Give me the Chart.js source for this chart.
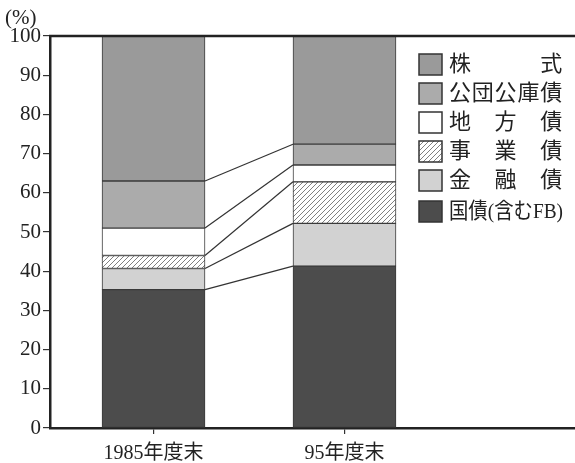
<!DOCTYPE html>
<html>
<head>
<meta charset="utf-8">
<script src="https://cdn.jsdelivr.net/npm/chart.js@4.4.1/dist/chart.umd.min.js"></script>
<style>
  html, body { margin: 0; padding: 0; background: #fff; }
  #wrap { width: 575px; height: 463px; }
</style>
</head>
<body>
<div id="wrap"><canvas id="c"></canvas></div>
<script>
// ================= DATA =================
const years = ["1985年度末", "95年度末"];
const seriesNames = ["国債(含むFB)", "金融債", "事業債", "地方債", "公団公庫債", "株式"];
const kokusai = [35.3, 41.3];
const kinyusai = [5.4, 10.9];
const jigyosai = [3.3, 10.6];
const chihosai = [7.0, 4.3];
const kodansai = [12.0, 5.3];
const kabushiki = [37.0, 27.6];
const yTicks = [0, 10, 20, 30, 40, 50, 60, 70, 80, 90, 100];

const FONT = '"Liberation Serif", "Noto Sans CJK JP", serif';

// hatch pattern for 事業債
function hatch() {
    const p = document.createElement("canvas");
    p.width = 5; p.height = 5;
    const g = p.getContext("2d");
    g.fillStyle = "#fff";
    g.fillRect(0, 0, 5, 5);
    g.strokeStyle = "#808080";
    g.lineWidth = 1;
    g.beginPath();
    g.moveTo(0, 5); g.lineTo(5, 0);
    g.moveTo(-2.5, 2.5); g.lineTo(2.5, -2.5);
    g.moveTo(2.5, 7.5); g.lineTo(7.5, 2.5);
    g.stroke();
    return g.createPattern(p, "repeat");
}

const fills = ["#4c4c4c", "#d2d2d2", hatch(), "#ffffff", "#ababab", "#9a9a9a"];
const values = [kokusai, kinyusai, jigyosai, chihosai, kodansai, kabushiki];

const datasets = seriesNames.map((name, i) => ({
    label: name,
    data: values[i].map((v, j) => ({ x: j, y: v })),
    backgroundColor: fills[i],
    borderColor: "#3a3a3a",
    borderWidth: 1,
    borderSkipped: false,
    barThickness: 103
}));

// ================= PLUGINS =================
const extras = {
    id: "extras",
    afterDatasetsDraw(chart) {
        const ctx = chart.ctx;
        const xs = chart.scales.x, ys = chart.scales.y;
        const half = chart.getDatasetMeta(0).data[0].width / 2;
        const xa = xs.getPixelForValue(0) + half;
        const xb = xs.getPixelForValue(1) - half;
        ctx.save();
        ctx.strokeStyle = "#333";
        ctx.lineWidth = 1.2;
        let c0 = 0, c1 = 0;
        for (let i = 0; i < values.length - 1; i++) {
            c0 += values[i][0];
            c1 += values[i][1];
            ctx.beginPath();
            ctx.moveTo(xa, ys.getPixelForValue(c0));
            ctx.lineTo(xb, ys.getPixelForValue(c1));
            ctx.stroke();
        }
        // top frame line
        const a = chart.chartArea;
        ctx.strokeStyle = "#222";
        ctx.lineWidth = 2.5;
        ctx.beginPath();
        ctx.moveTo(a.left - 1, a.top);
        ctx.lineTo(chart.width, a.top);
        ctx.stroke();

        // unit label
        ctx.fillStyle = "#222";
        ctx.font = "21px " + FONT;
        ctx.textBaseline = "middle";
        ctx.fillText("(%)", 5, 18);

        // legend (top = 株式)
        ctx.font = "22px " + FONT;
        const tx = 449, tw = 114;
        for (let k = 0; k < seriesNames.length; k++) {
            const i = seriesNames.length - 1 - k;
            const cy = 64 + k * 29 + (i === 0 ? 2 : 0);
            ctx.fillStyle = fills[i];
            ctx.fillRect(419, cy - 10, 23, 21);
            ctx.strokeStyle = "#333";
            ctx.lineWidth = 1.5;
            ctx.strokeRect(419, cy - 10, 23, 21);
            ctx.fillStyle = "#222";
            const t = seriesNames[i];
            ctx.textAlign = "left";
            if (i === 0) {
                ctx.fillText(t, tx, cy + 1, tw);
            } else {
                const chars = Array.from(t);
                const cw = 22.8;
                const gap = (tw - cw * chars.length) / (chars.length - 1);
                chars.forEach((ch, n) => ctx.fillText(ch, tx + n * (cw + gap), cy + 1));
            }
        }
        ctx.restore();
    }
};

// ================= CHART =================
new Chart(document.getElementById("c"), {
    type: "bar",
    data: { datasets: datasets },
    options: {
        responsive: true,
        maintainAspectRatio: false,
        animation: false,
        layout: { padding: { top: 36, right: 0, left: 0, bottom: 0 } },
        plugins: {
            legend: { display: false },
            tooltip: { enabled: false }
        },
        scales: {
            x: {
                type: "linear",
                stacked: true,
                offset: false,
                min: -0.542,
                max: 2.207,
                afterBuildTicks: s => { s.ticks = years.map((y, i) => ({ value: i })); },
                afterFit: s => { s.height = 35; },
                ticks: {
                    callback: v => years[v],
                    color: "#222",
                    font: { family: FONT, size: 20 },
                    padding: 8,
                    maxRotation: 0
                },
                grid: { offset: false, drawOnChartArea: false, drawTicks: true, tickLength: 6, color: "#333", lineWidth: 1.2 },
                border: { display: true, color: "#222", width: 2.5 }
            },
            y: {
                stacked: true,
                min: 0,
                max: 100,
                afterBuildTicks: s => { s.ticks = yTicks.map(v => ({ value: v })); },
                afterFit: s => { s.width = 50; },
                ticks: {
                    color: "#222",
                    font: { family: FONT, size: 21 },
                    padding: 2
                },
                grid: { drawOnChartArea: false, drawTicks: true, tickLength: 7, color: "#333", lineWidth: 1.2 },
                border: { display: true, color: "#222", width: 2.5 }
            }
        }
    },
    plugins: [extras]
});
</script>
</body>
</html>
